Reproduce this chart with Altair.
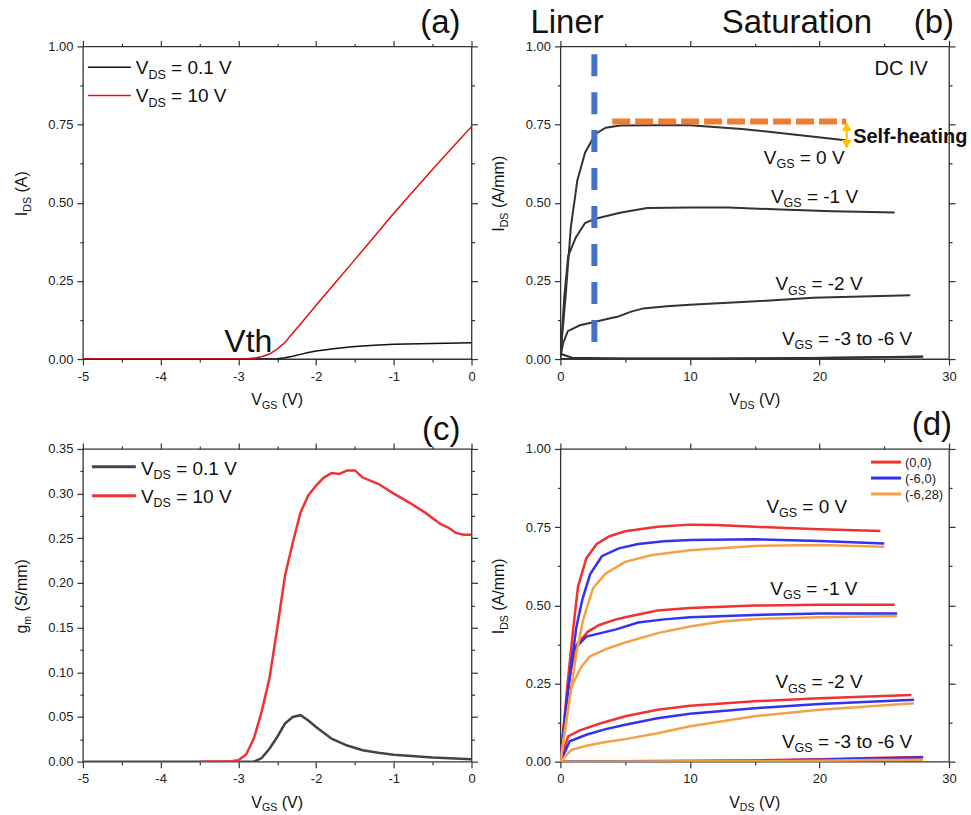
import altair as alt
import pandas as pd

FONT = "Liberation Sans"
INK = "#333333"
TXT = "#111111"
PW, PH = 389, 313
BIG = 33  # panel letters and region names

# ---------------- (a) transfer characteristics ----------------
A_VGS_01V = [-5.0, -4.0, -3.0, -2.6, -2.5, -2.4, -2.3, -2.2, -2.1, -2.0, -1.75, -1.5, -1.25, -1.0, -0.5, 0.0]
A_ID_01V = [0, 0, 0, 0, 0.001, 0.004, 0.009, 0.015, 0.021, 0.026, 0.034, 0.040, 0.044, 0.047, 0.050, 0.052]
A_VGS_10V = [-5.0, -4.0, -3.5, -3.0, -2.9, -2.8, -2.7, -2.6, -2.5, -2.4, -2.3, -2.2, -2.1, -2.0,
             -1.75, -1.5, -1.25, -1.0, -0.75, -0.5, -0.25, 0.0]
A_ID_10V = [0, 0, 0, 0.0, 0.001, 0.003, 0.0075, 0.016, 0.032, 0.053, 0.083, 0.112, 0.142, 0.172,
            0.245, 0.318, 0.392, 0.466, 0.537, 0.607, 0.676, 0.743]

# ---------------- (b) DC output characteristics ----------------
B_VDS_0 = [0, 0.4, 0.8, 1.3, 1.9, 2.7, 3.5, 4.6, 7, 10, 14, 18, 22]
B_ID_0 = [0.01, 0.2, 0.42, 0.57, 0.66, 0.72, 0.74, 0.747, 0.748, 0.748, 0.736, 0.718, 0.70]
B_VDS_1 = [0, 0.3, 0.6, 1.2, 1.9, 2.7, 4.6, 6.7, 10, 13, 17, 21, 25.8]
B_ID_1 = [0.01, 0.2, 0.33, 0.39, 0.435, 0.449, 0.468, 0.483, 0.485, 0.485, 0.478, 0.473, 0.469]
B_VDS_2 = [0, 0.2, 0.57, 1.5, 2.7, 3.6, 4.4, 5.4, 6.4, 8.2, 10, 14.4, 19.5, 27]
B_ID_2 = [0.005, 0.05, 0.089, 0.108, 0.119, 0.128, 0.135, 0.151, 0.162, 0.169, 0.174, 0.183, 0.196, 0.204]
B_VDS_3 = [0, 0.9, 5, 12, 19, 24, 28]
B_ID_3 = [0.017, 0.004, 0.002, 0.002, 0.003, 0.006, 0.008]
B_VDS_OFF = [0, 1, 10, 20, 28]
B_ID_OFF = [0.0, 0.001, 0.001, 0.003, 0.007]

# ---------------- (c) transconductance ----------------
C_VGS_01V = [-5.0, -2.8, -2.7, -2.6, -2.5, -2.4, -2.3, -2.2, -2.1, -2.0, -1.8, -1.6, -1.4, -1.2, -1.0, -0.5, 0.0]
C_GM_01V = [0, 0, 0.004, 0.0145, 0.0276, 0.0425, 0.050, 0.052, 0.046, 0.0388, 0.0257, 0.018, 0.0127,
            0.010, 0.0078, 0.0045, 0.0026]
C_VGS_10V = [-3.5, -3.1, -3.0, -2.9, -2.8, -2.7, -2.6, -2.5, -2.4, -2.3, -2.2, -2.1, -2.0, -1.9, -1.8,
             -1.7, -1.6, -1.5, -1.4, -1.2, -1.0, -0.8, -0.6, -0.4, -0.3, -0.2, -0.1, 0.0]
C_GM_10V = [0, 0.0005, 0.0015, 0.008, 0.026, 0.056, 0.093, 0.149, 0.208, 0.245, 0.279, 0.298, 0.309,
            0.318, 0.323, 0.322, 0.326, 0.326, 0.318, 0.311, 0.300, 0.290, 0.279, 0.266, 0.262, 0.256,
            0.254, 0.254]

# ---------------- (d) pulsed output characteristics ----------------
D_LEGEND = ["(0,0)", "(-6,0)", "(-6,28)"]
D_COLORS = ["#F03232", "#3232F0", "#F5A047"]
D_CURVES = {
    "(0,0)": [
        ([0, 0.6, 1.0, 1.36, 2.0, 2.8, 3.8, 5, 7.5, 10, 12, 15, 20, 24.7],
         [0, 0.27, 0.43, 0.56, 0.65, 0.696, 0.721, 0.737, 0.751, 0.758, 0.757, 0.751, 0.743, 0.738]),
        ([0, 0.6, 1.23, 2.13, 3.0, 4.3, 5, 7.5, 10, 15, 20, 25.8],
         [0, 0.25, 0.373, 0.416, 0.437, 0.455, 0.462, 0.483, 0.491, 0.499, 0.502, 0.502]),
        ([0, 0.59, 1.5, 3.0, 5, 7.5, 10, 15, 20, 27.1],
         [0, 0.081, 0.100, 0.121, 0.145, 0.166, 0.179, 0.193, 0.203, 0.213]),
        ([0, 5, 10, 15, 20, 24, 28],
         [0, 0.001, 0.002, 0.004, 0.008, 0.012, 0.015]),
    ],
    "(-6,0)": [
        ([0, 0.72, 1.23, 1.7, 2.3, 3.2, 4.5, 6, 8, 10, 15, 20, 25],
         [0, 0.27, 0.43, 0.52, 0.60, 0.657, 0.682, 0.696, 0.705, 0.709, 0.711, 0.706, 0.698]),
        ([0, 0.5, 0.98, 2.0, 4.3, 6, 8, 10, 15, 20, 26],
         [0, 0.2, 0.357, 0.40, 0.423, 0.445, 0.455, 0.462, 0.469, 0.474, 0.474]),
        ([0, 0.72, 2.0, 3.5, 5, 7.5, 10, 15, 20, 27.3],
         [0, 0.065, 0.086, 0.104, 0.118, 0.139, 0.153, 0.171, 0.184, 0.198]),
        ([0, 5, 10, 15, 20, 24, 28],
         [0, 0.001, 0.002, 0.003, 0.006, 0.010, 0.013]),
    ],
    "(-6,28)": [
        ([0, 0.85, 1.23, 1.75, 2.52, 3.5, 5, 7, 10, 15, 20, 25],
         [0, 0.24, 0.347, 0.453, 0.555, 0.602, 0.639, 0.66, 0.676, 0.69, 0.693, 0.687]),
        ([0, 0.85, 1.62, 2.26, 3.5, 5, 7.5, 10, 12.5, 15, 20, 26],
         [0, 0.24, 0.304, 0.336, 0.36, 0.381, 0.411, 0.432, 0.448, 0.456, 0.462, 0.466]),
        ([0, 0.85, 2.0, 3.5, 5, 7.5, 10, 15, 20, 27.3],
         [0, 0.038, 0.051, 0.063, 0.072, 0.091, 0.113, 0.145, 0.166, 0.187]),
        ([0, 5, 10, 15, 20, 24, 28],
         [0, 0.0005, 0.001, 0.002, 0.003, 0.005, 0.006]),
    ],
}

# advance widths (em) of the Arial-metric glyphs used in composed labels
GLYPH_W = {" ": .278, "(": .333, ")": .333, "-": .333, ".": .278, "/": .278, ",": .278,
           "=": .584, "A": .667, "D": .722, "G": .778, "I": .278, "S": .667, "V": .667, "g": .556,
           "m": .833, "o": .556, "t": .278}


def tw(s, size):
    return sum(GLYPH_W.get(c, .556) for c in s) * size


ONE = pd.DataFrame({"k": [0]})


def at(x, y):
    return dict(x=alt.XDatum(x, axis=None), y=alt.YDatum(y, axis=None))


def px(x, y):
    return dict(x=alt.value(x), y=alt.value(y))


def text(s, pos, size, align="left", weight="normal", dx=0.0, dy=0.0, angle=0, color=TXT):
    return alt.Chart(ONE).mark_text(
        text=s, font=FONT, fontSize=size, fontWeight=weight, align=align,
        baseline="alphabetic", dx=dx, dy=dy, angle=angle, color=color,
    ).encode(**pos)


def sub_label(main, sub, rest, pos, size, angle=0, center=False):
    """Symbol with a subscript followed by plain text, laid out piece by piece."""
    ss = round(size * 0.66, 1)
    wm, ws, wr = tw(main, size), tw(sub, ss), tw(rest, size)
    start = -(wm + ws + wr) / 2 if center else 0.0
    body = rest.lstrip(" ")
    lead = tw(rest[: len(rest) - len(body)], size)  # leading blank rendered as an offset
    return [
        text(main, pos, size, dx=start, angle=angle),
        text(sub, pos, ss, dx=start + wm, dy=size * 0.23, angle=angle),
        text(body, pos, size, dx=start + wm + ws + lead, angle=angle),
    ]


def curve(xv, yv, xs, ys, color, width):
    df = pd.DataFrame({"x": xv, "y": yv})
    return alt.Chart(df).mark_line(color=color, strokeWidth=width, clip=True).encode(
        x=alt.X("x:Q", scale=xs, axis=None), y=alt.Y("y:Q", scale=ys, axis=None))


def seg(x1, x2, y, color, width, dash=None):
    kw = dict(color=color, strokeWidth=width)
    if dash:
        kw["strokeDash"] = dash
    return alt.Chart(ONE).mark_rule(**kw).encode(
        x=alt.XDatum(x1, axis=None), x2=alt.X2Datum(x2), y=alt.YDatum(y, axis=None))


def axis_layers(xd, yd, xmaj, xmin, ymaj, ymin, yfmt):
    xs = alt.Scale(domain=xd, nice=False, zero=False)
    ys = alt.Scale(domain=yd, nice=False, zero=False)

    def ax(orient, values, size, labels=False, expr=None, pad=4):
        kw = dict(orient=orient, values=values, tickSize=size, tickWidth=1.2, tickColor=INK,
                  domain=False, grid=False, title=None, labels=labels)
        if labels:
            kw.update(labelFont=FONT, labelFontSize=13, labelColor="#222222", labelPadding=pad,
                      labelFlush=False, labelOverlap=False, labelExpr=expr)
        return alt.Axis(**kw)

    pairs = [
        (ax("bottom", xmaj, 6, True, "toString(datum.value)", 5),
         ax("left", ymaj, 6, True, f"format(datum.value, '{yfmt}')", 4)),
        (ax("bottom", xmin, 3), ax("left", ymin, 3)),
        (ax("top", xmaj, 6), ax("right", ymaj, 6)),
        (ax("top", xmin, 3), ax("right", ymin, 3)),
    ]
    layers = [
        alt.Chart(ONE).mark_point(opacity=0).encode(
            x=alt.XDatum(xd[0], scale=xs, axis=a), y=alt.YDatum(yd[0], scale=ys, axis=b))
        for a, b in pairs
    ]
    return xs, ys, layers


def titles(xsub, ysym, ysub, yrest):
    return (sub_label("V", xsub, " (V)", px(PW / 2, PH + 46), 16, center=True)
            + sub_label(ysym, ysub, yrest, px(-56, PH / 2 - 9), 16, angle=270, center=True))


def panel(layers):
    return alt.layer(*layers).resolve_axis(x="independent", y="independent").properties(
        width=PW, height=PH)


# ---------------- panel (a) ----------------
xs, ys, axes = axis_layers([-5, 0], [0, 1], [-5, -4, -3, -2, -1, 0],
                           [-4.5, -3.5, -2.5, -1.5, -0.5],
                           [0, 0.25, 0.5, 0.75, 1.0], [0.125, 0.375, 0.625, 0.875], ".2f")
layers_a = axes + [
    curve(A_VGS_01V, A_ID_01V, xs, ys, "#111111", 1.5),
    curve(A_VGS_10V, A_ID_10V, xs, ys, "#E01010", 1.5),
    seg(-4.936, -4.383, 0.933, "#111111", 1.5),
    seg(-4.936, -4.383, 0.843, "#E01010", 1.5),
    text("Vth", at(-3.18, 0.024), 32),
    text("(a)", px(PW - 11, -13.5), BIG, align="right"),
]
layers_a += sub_label("V", "DS", " = 0.1 V", at(-4.32, 0.911), 19)
layers_a += sub_label("V", "DS", " = 10 V", at(-4.32, 0.821), 19)
layers_a += titles("GS", "I", "DS", " (A)")
pa = panel(layers_a)

# ---------------- panel (b) ----------------
xs, ys, axes = axis_layers([0, 30], [0, 1], [0, 10, 20, 30], [5, 15, 25],
                           [0, 0.25, 0.5, 0.75, 1.0], [0.125, 0.375, 0.625, 0.875], ".2f")
arrow = alt.Chart(ONE).mark_rule(color="#FFC000", strokeWidth=2).encode(
    x=alt.XDatum(22.1, axis=None), y=alt.YDatum(0.752, axis=None), y2=alt.Y2Datum(0.678))
head_up = alt.Chart(ONE).mark_point(shape="triangle-up", filled=True, size=95, color="#FFC000",
                                    opacity=1).encode(**at(22.1, 0.744))
head_dn = alt.Chart(ONE).mark_point(shape="triangle-down", filled=True, size=95, color="#FFC000",
                                    opacity=1).encode(**at(22.1, 0.687))
vline = alt.Chart(ONE).mark_rule(color="#4472C4", strokeWidth=6, strokeDash=[22, 16]).encode(
    x=alt.XDatum(2.62, axis=None), y=alt.YDatum(0.975, axis=None), y2=alt.Y2Datum(0.038))
layers_b = axes + [
    curve(B_VDS_OFF, B_ID_OFF, xs, ys, "#333333", 2),
    curve(B_VDS_3, B_ID_3, xs, ys, "#333333", 2),
    curve(B_VDS_2, B_ID_2, xs, ys, "#333333", 2),
    curve(B_VDS_1, B_ID_1, xs, ys, "#333333", 2),
    curve(B_VDS_0, B_ID_0, xs, ys, "#333333", 2),
    vline,
    seg(4.0, 22.06, 0.760, "#ED7D31", 6, [18, 5]),
    arrow, head_up, head_dn,
    text("DC IV", at(24.25, 0.907), 20),
    text("Self-heating", at(22.6, 0.691), 20, weight="bold"),
    text("Liner", px(-30, -13), BIG),
    text("Saturation", px(161.5, -13), BIG),
    text("(b)", px(PW + 5, -13.5), BIG, align="right"),
]
layers_b += sub_label("V", "GS", " = 0 V", at(15.7, 0.624), 19)
layers_b += sub_label("V", "GS", " = -1 V", at(16.25, 0.499), 19)
layers_b += sub_label("V", "GS", " = -2 V", at(16.6, 0.220), 19)
layers_b += sub_label("V", "GS", " = -3 to -6 V", at(17.1, 0.045), 19)
layers_b += titles("DS", "I", "DS", " (A/mm)")
pb = panel(layers_b)

# ---------------- panel (c) ----------------
xs, ys, axes = axis_layers([-5, 0], [0, 0.35], [-5, -4, -3, -2, -1, 0],
                           [-4.5, -3.5, -2.5, -1.5, -0.5],
                           [0, 0.05, 0.1, 0.15, 0.2, 0.25, 0.3, 0.35],
                           [0.025, 0.075, 0.125, 0.175, 0.225, 0.275, 0.325], ".2f")
layers_c = axes + [
    curve(C_VGS_01V, C_GM_01V, xs, ys, "#444444", 2.5),
    curve(C_VGS_10V, C_GM_10V, xs, ys, "#EE3333", 2.5),
    seg(-4.884, -4.319, 0.330, "#444444", 3),
    seg(-4.884, -4.319, 0.2975, "#EE3333", 3),
    text("(c)", px(PW - 11, -8.5), BIG, align="right"),
]
layers_c += sub_label("V", "DS", " = 0.1 V", at(-4.254, 0.321), 19)
layers_c += sub_label("V", "DS", " = 10 V", at(-4.254, 0.2896), 19)
layers_c += titles("GS", "g", "m", " (S/mm)")
pc = panel(layers_c)

# ---------------- panel (d) ----------------
xs, ys, axes = axis_layers([0, 30], [0, 1], [0, 10, 20, 30], [5, 15, 25],
                           [0, 0.25, 0.5, 0.75, 1.0], [0.125, 0.375, 0.625, 0.875], ".2f")
layers_d = list(axes)
for name, color in zip(D_LEGEND, D_COLORS):
    for xv, yv in D_CURVES[name]:
        layers_d.append(curve(xv, yv, xs, ys, color, 2.5))
for i, (name, color) in enumerate(zip(D_LEGEND, D_COLORS)):
    yrow = 0.958 - 0.051 * i
    layers_d.append(seg(23.98, 26.3, yrow, color, 3))
    layers_d.append(text(name, at(26.6, yrow - 0.0145), 13, color="#222222"))
layers_d.append(text("(d)", px(PW + 3, -13.5), BIG, align="right"))
layers_d += sub_label("V", "GS", " = 0 V", at(15.9, 0.796), 19)
layers_d += sub_label("V", "GS", " = -1 V", at(16.2, 0.533), 19)
layers_d += sub_label("V", "GS", " = -2 V", at(16.6, 0.235), 19)
layers_d += sub_label("V", "GS", " = -3 to -6 V", at(17.1, 0.044), 19)
layers_d += titles("DS", "I", "DS", " (A/mm)")
pd_ = panel(layers_d)

chart = alt.concat(
    pa, pb, pc, pd_, columns=2, bounds="flush",
    spacing={"row": 90, "column": 89},
).properties(
    padding={"left": 13, "top": 5, "right": 2, "bottom": 2},
    background="white",
).configure_view(stroke=INK, strokeWidth=1.3)

chart.save("out.html", embed_options={"renderer": "svg", "actions": False})
